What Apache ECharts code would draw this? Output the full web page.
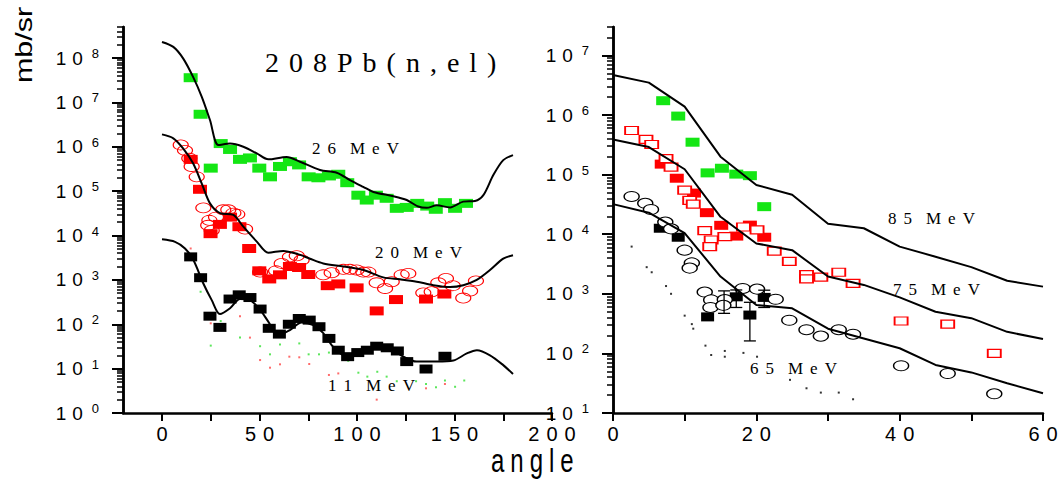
<!DOCTYPE html>
<html>
<head>
<meta charset="utf-8">
<script src="https://cdn.jsdelivr.net/npm/echarts@6/dist/echarts.min.js"></script>
<style>
  html, body { margin: 0; padding: 0; background: #fff; }
  #chart { width: 1058px; height: 479px; }
</style>
</head>
<body>
<div id="chart"></div>
<script>
// ---- Left panel: 208Pb(n,el) angular distributions, 11 / 20 / 26 MeV ----
const calc26 = [[0,2.3e8],[5.8,1.78e8],[10.9,9.7e7],[16,3.7e7],[20.4,1.33e7],[24.6,4.0e6],[28.9,1.1e6],[34.9,1.18e6],[41.7,1.0e6],[48.6,7.1e5],[54.5,5.2e5],[63.9,5.9e5],[70.8,4.6e5],[81,3.0e5],[89.6,2.6e5],[96.4,1.78e5],[103.2,1.25e5],[108.4,9.6e4],[118.6,7.7e4],[125.5,6.3e4],[131.4,4.5e4],[135.7,4.2e4],[140.9,4.8e4],[147.7,4.3e4],[154.5,5.8e4],[160.5,6.0e4],[164.8,8.1e4],[169.9,2.3e5],[175,5.0e5],[180,6.5e5]];
const exp26 = [[14.7,3.6e7],[19.8,5.4e6],[25,3.3e5],[30.1,1.18e6],[34.9,8.7e5],[40,5.2e5],[45.1,5.6e5],[49.9,3.3e5],[55.4,2.1e5],[60.5,3.6e5],[65.6,4.6e5],[70.3,3.9e5],[75.2,2.1e5],[80.2,2.0e5],[85.6,2.2e5],[90.4,2.4e5],[95,1.55e5],[100.7,8.1e4],[105,6.3e4],[109.7,8.1e4],[115.2,6.9e4],[120.4,4.1e4],[125.5,4.3e4],[130.9,5.3e4],[136,4.6e4],[140.4,3.9e4],[145.1,5.5e4],[150.3,4.1e4],[155.9,5.3e4]];

const calc20 = [[0,1.9e6],[5.8,1.55e6],[10.9,9.1e5],[16,4.2e5],[20.4,1.48e5],[24.6,5.3e4],[29.7,3.2e4],[36.6,2.9e4],[41.7,1.58e4],[48.6,7.3e3],[54.5,4.1e3],[62.2,4.5e3],[69.7,3.8e3],[75.9,3.0e3],[82.7,2.35e3],[93,2.0e3],[103.2,1.67e3],[113.5,1.14e3],[122,1.03e3],[130.6,9.1e2],[139.1,7.6e2],[147.7,6.9e2],[154.5,7.6e2],[161.4,1.0e3],[168.2,1.67e3],[175,3.0e3],[180,3.6e3]];
const exp20Filled = [[14.7,5.2e5],[19.5,1.1e5],[24.9,1.1e4],[29.7,1.78e4],[34.9,2.6e4],[39.7,1.58e4],[44.7,5.1e3],[49.9,1.6e3],[55,1.05e3],[60.5,1.3e3],[65.6,2.0e3],[70.3,1.9e3],[75,1.32e3],[85,7.4e2],[90.4,8.1e2],[99.8,6.6e2],[110.1,2.0e2],[120,3.6e2],[135.4,3.7e2],[144.8,4.8e2]];
const exp20Open = [[9.6,1.1e6],[11.8,8.3e5],[14,5.5e5],[15.2,3.6e5],[17.8,2.1e5],[21.2,4.2e4],[23.7,1.7e4],[24.3,2.2e4],[25.5,1.3e4],[27.7,2.6e4],[31.4,3.8e4],[34,3.8e4],[36.6,3.2e4],[38.6,3.0e4],[42.6,1.4e4],[50.3,1.5e3],[58.5,1.6e3],[61.4,2.35e3],[65.6,3.3e3],[69.1,3.5e3],[71.6,2.8e3],[82.7,1.3e3],[87,1.45e3],[93,1.73e3],[96.4,1.73e3],[99.8,1.67e3],[103.2,1.5e3],[105.8,1.5e3],[110.1,8.6e2],[114.4,6.4e2],[117.8,9.1e2],[122.9,1.3e3],[126.3,1.4e3],[134,5.1e2],[138.3,5.4e2],[141.7,8.6e2],[145.6,1.08e3],[149.1,7.4e2],[154.5,3.9e2],[158,5.6e2],[161,9.5e2]];

const calc11 = [[0,8.2e3],[6.7,7.2e3],[11.8,5.1e3],[16.1,2.8e3],[21.2,8.3e2],[25.5,3.5e2],[29.7,1.7e2],[34.9,2.3e2],[40,3.7e2],[45.1,3.5e2],[50.3,2.1e2],[54.5,1.15e2],[59.6,57],[65.6,74],[71.6,1.1e2],[77.6,96],[82.7,63],[87,34],[92.2,21],[96.4,18.6],[101.5,25],[109.2,32],[116.9,29.5],[123.7,18.6],[130.6,14.4],[140.9,14.4],[149.4,15.2],[156.3,22],[161.5,26],[168.2,20],[175,12],[180,7.6]];
const exp11 = [[14.7,3.3e3],[19.8,1.12e3],[24.6,1.52e2],[29.7,85],[34.9,3.7e2],[39.6,4.6e2],[45.1,4.0e2],[50.3,2.2e2],[55,81],[60.2,60],[65.3,1.0e2],[70.4,1.35e2],[75.5,1.24e2],[80.5,88],[85.6,48],[90.4,26],[95.2,18.6],[100.4,23],[105.3,26],[110.1,32],[115.5,29.5],[120.7,25],[125.5,14.4],[135.4,9.8],[145.1,19]];

const dotsGreen = [[19.8,540],[30.1,118],[25,33],[40,50],[50.3,32],[55.4,21],[60.5,35],[70.4,37],[75.2,21],[80.5,21],[85.6,23],[90.4,23],[95.5,15],[100.7,8.1],[105.3,6.6],[110.4,8.5],[115.2,6.6],[120.4,5.2],[130.3,5.2],[135.4,4.5],[140.5,3.8],[145.1,5.4],[150.3,3.9],[155,5.4]];
const dotsRed = [[14.7,5.1e3],[19.8,1.07e3],[25,105],[40,152],[45.1,50],[50.3,15.6],[55.4,10.5],[60.5,12.5],[65.3,18.6],[70.4,18],[75.5,12.7],[85.6,7.2],[90.4,7.8],[110.1,2.0],[135.4,3.6],[145.1,4.5]];

// ---- Right panel: 65 / 75 / 85 MeV ----
const calc85 = [[0,4.7e6],[5,3.5e6],[10,1.38e6],[15,2.0e5],[20,6.7e4],[25,4.6e4],[30,1.5e4],[35,1.26e4],[40,6.2e3],[45,4.2e3],[50,2.8e3],[55,1.66e3],[60,1.32e3]];
const calc75 = [[0,3.9e5],[5,2.9e5],[10,1.23e5],[15,1.96e4],[20,7.0e3],[25,5.4e3],[30,1.95e3],[35,1.41e3],[40,8.7e2],[45,5.0e2],[50,3.9e2],[55,2.3e2],[60,1.74e2]];
const calc65 = [[0,3.2e4],[5,2.3e4],[10,1.04e4],[15,1.95e3],[20,6.5e2],[25,5.7e2],[30,2.6e2],[35,1.78e2],[40,1.22e2],[45,64],[50,48],[55,31.6],[60,21.5]];

const exp85 = [[7.0,1.74e6],[9.1,9.6e5],[11.1,3.5e5],[13.2,1.07e5],[15.2,1.28e5],[17.2,1.02e5],[19.1,9.6e4],[21.1,2.9e4]];
const exp75Filled = [[6.8,1.5e5],[8.9,8.7e4],[11.3,4.9e4],[13.1,2.3e4],[15.1,1.41e4],[17.2,9.3e3],[19.1,1.42e4],[21.1,8.9e3]];
const exp75Open = [[2.6,5.5e5],[4.6,3.9e5],[5.4,3.2e5],[7.4,1.86e5],[8.1,1.34e5],[10.0,5.5e4],[10.7,3.7e4],[11.2,3.2e4],[12.8,1.15e4],[13.7,8.0e3],[13.5,6.2e3],[15.6,9.1e3],[18.2,1.32e4],[20.1,1.18e4],[22.5,5.2e3],[24.6,3.5e3],[27.0,2.1e3],[27.0,1.78e3],[29.0,1.9e3],[31.5,2.3e3],[33.5,1.5e3],[40.2,3.5e2],[46.7,3.1e2],[53.2,1.0e2]];
const exp65Filled = [[6.6,1.26e4],[9.1,8.9e3],[13.2,4.1e2],[17.2,8.9e2],[19.1,4.4e2],[21.1,8.7e2]];
const exp65Open = [[2.6,4.3e4],[4.5,3.3e4],[5.3,2.6e4],[7.3,1.6e4],[8.1,1.23e4],[10.0,5.4e3],[11.0,3.3e3],[10.7,2.7e3],[12.8,1.07e3],[13.7,7.9e2],[13.6,5.9e2],[15.6,8.0e2],[15.4,6.4e2],[18.1,1.23e3],[20.1,1.2e3],[22.7,8.1e2],[24.6,3.6e2],[27.0,2.5e2],[29.0,1.95e2],[31.5,2.5e2],[33.5,2.1e2],[40.2,62],[46.7,46],[53.2,21]];
// [angle, upper, lower]
const err65 = [[15.5,1.12e3,4.7e2],[17.2,1.16e3,5.9e2],[19.1,7.2e2,1.62e2],[21.1,1.15e3,5.9e2]];
const dotsBlack = [[2.6,6.2e3],[4.7,2.8e3],[5.4,2.3e3],[7.4,1.35e3],[8.1,1.0e3],[10.0,4.3e2],[11.0,3.1e2],[11.2,2.6e2],[12.9,1.35e2],[13.7,94],[15.6,1.1e2],[15.6,88],[18.2,1.02e2],[20.1,88],[24.7,36],[27.0,26],[29.0,22],[31.5,22],[33.5,17]];

// ---- Axis ranges, ticks and labels ----
const leftXRange = [-20, 200];
const rightXRange = [0, 60];
const leftYRange = [1, 5e8];
const rightYRange = [10, 3e7];
const leftXTicks = [0, 25, 50, 75, 100, 125, 150, 175, 200];
const leftXLabels = [0, 50, 100, 150, 200];
const rightXTicks = [0, 10, 20, 30, 40, 50, 60];
const rightXLabels = [0, 20, 40, 60];
const leftYMajor = [1, 1e1, 1e2, 1e3, 1e4, 1e5, 1e6, 1e7, 1e8];
const rightYMajor = [1e1, 1e2, 1e3, 1e4, 1e5, 1e6, 1e7];

const SANS = '"Liberation Sans", Arial, sans-serif';
const SERIF = '"Liberation Serif", "Times New Roman", serif';
const GREEN = '#14e614';
const RED = '#ff0000';

// 2..9 x 10^n inside a log range
function logMinors(range) {
  const out = [];
  const e0 = Math.floor(Math.log10(range[0]));
  const e1 = Math.ceil(Math.log10(range[1]));
  for (let e = e0; e <= e1; e++) {
    for (let m = 2; m <= 9; m++) {
      const v = m * Math.pow(10, e);
      if (v > range[0] && v <= range[1] * 1.0001) out.push(v);
    }
  }
  return out;
}

// rich-text string with fixed gaps between the characters
function spaced(text, cls, gapCls) {
  return text.split('').map(c => c === ' ' ? '{' + gapCls + '| }' : '{' + cls + '|' + c + '}').join('');
}

const xLabelRich = { d: { fontSize: 20, fontFamily: SANS, color: '#000' }, g: { width: 7 } };
const yLabelRich = {
  d: { fontSize: 19, fontFamily: SANS, color: '#000', lineHeight: 22 },
  g: { width: 6 },
  s: { fontSize: 13, fontFamily: SANS, color: '#000', lineHeight: 13, verticalAlign: 'top', padding: [0, 0, 0, 9] }
};

function xAxisCfg(grid, range, ticks, labels) {
  return {
    gridIndex: grid, type: 'value', min: range[0], max: range[1],
    axisLine: { show: true, onZero: false, lineStyle: { color: '#000', width: 2.5 } },
    axisTick: { show: true, customValues: ticks, length: 8, lineStyle: { color: '#000', width: 2 } },
    axisLabel: {
      customValues: labels, margin: 11,
      formatter: v => spaced(String(v).split('').join(' '), 'd', 'g'),
      rich: xLabelRich
    },
    splitLine: { show: false }
  };
}
function yAxisMajor(grid, range, ticks) {
  return {
    gridIndex: grid, type: 'log', min: range[0], max: range[1], position: 'left',
    axisLine: { show: true, onZero: false, lineStyle: { color: '#000', width: 2.5 } },
    axisTick: { show: true, customValues: ticks, length: 11, lineStyle: { color: '#000', width: 2 } },
    axisLabel: {
      customValues: ticks, margin: 24,
      formatter: v => '{d|1}{g| }{d|0}{s|' + Math.round(Math.log10(v)) + '}',
      rich: yLabelRich
    },
    splitLine: { show: false }
  };
}
function yAxisMinor(grid, range) {
  return {
    gridIndex: grid, type: 'log', min: range[0], max: range[1], position: 'left', offset: 0,
    axisLine: { show: true, onZero: false, lineStyle: { color: '#000', width: 2.5 } },
    axisTick: { show: true, customValues: logMinors(range), length: 6, lineStyle: { color: '#000', width: 1.5 } },
    axisLabel: { show: false },
    splitLine: { show: false }
  };
}

function line(data, xi, yi, smooth) {
  return { type: 'line', xAxisIndex: xi, yAxisIndex: yi, data: data, symbol: 'none', smooth: smooth, clip: false,
           lineStyle: { color: '#000', width: 2 }, z: 5, silent: true };
}
function scatter(data, xi, yi, symbol, size, fill, border, bw, z) {
  return { type: 'scatter', xAxisIndex: xi, yAxisIndex: yi, data: data, symbol: symbol, symbolSize: size, clip: false,
           itemStyle: { color: fill, borderColor: border || fill, borderWidth: bw || 0, opacity: 1 }, z: z || 2, silent: true };
}

const energyRich = { e: { fontSize: 17, fontFamily: SERIF, color: '#000' }, eg: { width: 7 } };
function energyLabel(text, x, y) {
  return { type: 'text', x: x, y: y, style: { text: spaced(text, 'e', 'eg'), rich: energyRich, align: 'left', verticalAlign: 'middle' } };
}

const chart = echarts.init(document.getElementById('chart'), null, { renderer: 'svg' });
chart.setOption({
  animation: false,
  grid: [
    { left: 123, top: 27, width: 429, height: 386, outerBoundsMode: 'none' },
    { left: 613, top: 27, width: 430, height: 386, outerBoundsMode: 'none' }
  ],
  xAxis: [
    xAxisCfg(0, leftXRange, leftXTicks, leftXLabels),
    xAxisCfg(1, rightXRange, rightXTicks, rightXLabels)
  ],
  yAxis: [
    yAxisMajor(0, leftYRange, leftYMajor),
    yAxisMinor(0, leftYRange),
    yAxisMajor(1, rightYRange, rightYMajor),
    yAxisMinor(1, rightYRange)
  ],
  graphic: [
    { type: 'text', x: 24, y: 45, rotation: Math.PI / 2, scaleX: 1.27,
      style: { text: 'mb/sr', font: '24px ' + SANS, fill: '#000', align: 'center', verticalAlign: 'middle' } },
    { type: 'text', x: 265, y: 62.5,
      style: { text: spaced('2 0 8 P b ( n , e l )', 't', 'tg'), rich: { t: { fontSize: 28, fontFamily: SERIF, color: '#000' }, tg: { width: 10 } }, align: 'left', verticalAlign: 'middle' } },
    { type: 'text', x: 491, y: 461, scaleY: 1.35,
      style: { text: spaced('a n g l e', 'a', 'ag'), rich: { a: { fontSize: 24, fontFamily: SANS, color: '#000' }, ag: { width: 6 } }, align: 'left', verticalAlign: 'middle' } },
    energyLabel('2 6  M e V', 312, 148),
    energyLabel('2 0  M e V', 375, 252.5),
    energyLabel('1 1  M e V', 328, 385),
    energyLabel('8 5  M e V', 888, 218.5),
    energyLabel('7 5  M e V', 893, 289),
    energyLabel('6 5  M e V', 750, 368)
  ],
  series: [
    // left panel
    scatter(dotsGreen, 0, 0, 'rect', 2, '#5be65b'),
    scatter(dotsRed, 0, 0, 'rect', 2, '#ff6a6a'),
    scatter(exp26, 0, 0, 'rect', [14, 9], GREEN),
    scatter(exp20Filled, 0, 0, 'rect', [14, 9], RED),
    scatter(exp20Open, 0, 0, 'circle', [15, 10], 'none', RED, 1, 3),
    scatter(exp11, 0, 0, 'rect', [13, 9], '#000'),
    line(calc26, 0, 0, 0.3),
    line(calc20, 0, 0, 0.3),
    line(calc11, 0, 0, 0.3),
    // right panel
    scatter(dotsBlack, 1, 2, 'rect', 2, '#333'),
    scatter(exp85, 1, 2, 'rect', [14, 9], GREEN),
    scatter(exp75Filled, 1, 2, 'rect', [14, 9], RED),
    scatter(exp75Open, 1, 2, 'rect', [13, 8], '#fff', RED, 1.5, 3),
    scatter(exp65Filled, 1, 2, 'rect', [13, 9], '#000'),
    scatter(exp65Open, 1, 2, 'circle', [15, 10], '#fff', '#000', 1.2, 3),
    {
      type: 'custom', xAxisIndex: 1, yAxisIndex: 2, data: err65, z: 4, silent: true, clip: false,
      encode: { x: 0, y: [1, 2] },
      renderItem: function (params, api) {
        const x = api.value(0);
        const top = api.coord([x, api.value(1)]);
        const bot = api.coord([x, api.value(2)]);
        const w = 6;
        return {
          type: 'group',
          children: [
            { type: 'line', shape: { x1: top[0], y1: top[1], x2: bot[0], y2: bot[1] }, style: { stroke: '#000', lineWidth: 1.3 } },
            { type: 'line', shape: { x1: top[0] - w, y1: top[1], x2: top[0] + w, y2: top[1] }, style: { stroke: '#000', lineWidth: 1.3 } },
            { type: 'line', shape: { x1: bot[0] - w, y1: bot[1], x2: bot[0] + w, y2: bot[1] }, style: { stroke: '#000', lineWidth: 1.3 } }
          ]
        };
      }
    },
    line(calc85, 1, 2, false),
    line(calc75, 1, 2, false),
    line(calc65, 1, 2, false)
  ]
});
</script>
</body>
</html>
